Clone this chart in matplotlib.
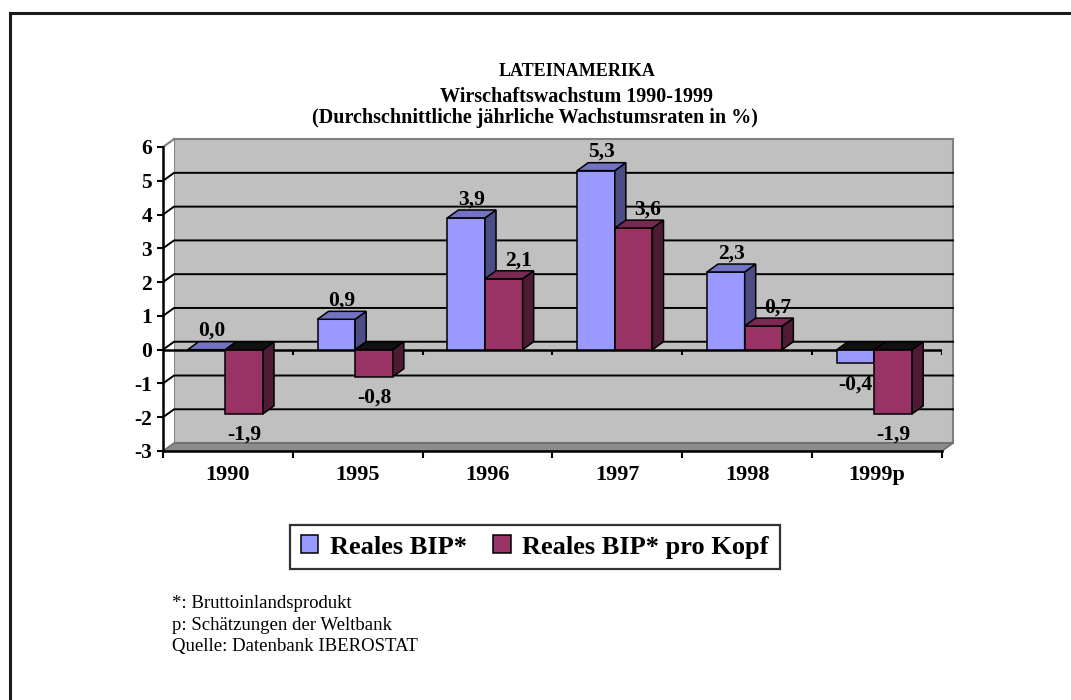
import numpy as np
import matplotlib
matplotlib.use("Agg")
import matplotlib.pyplot as plt
from matplotlib.patches import Polygon, Rectangle
from matplotlib.lines import Line2D

plt.rcParams['font.family'] = ['Liberation Serif', 'DejaVu Serif']

years = ['1990', '1995', '1996', '1997', '1998', '1999p']
bip = [0.0, 0.9, 3.9, 5.3, 2.3, -0.4]
bip_kopf = [-1.9, -0.8, 2.1, 3.6, 0.7, -1.9]
series_names = ['Reales BIP*', 'Reales BIP* pro Kopf']
yticks = [-3, -2, -1, 0, 1, 2, 3, 4, 5, 6]
notes = ['*: Bruttoinlandsprodukt',
         'p: Schätzungen der Weltbank',
         'Quelle: Datenbank IBEROSTAT']

front_c = ['#9999FF', '#993366']
side_c = ['#4D4D85', '#4F1A36']
top_c = ['#7373C4', '#7A2952']

W, H = 1071, 700
fig = plt.figure(figsize=(W / 100, H / 100), dpi=100)
ax = fig.add_axes([163 / W, (H - 451) / H, 779 / W, 304 / H])
ax.set_xlim(0, 6)
ax.set_ylim(-3, 6)
ax.patch.set_visible(False)

# depth of the 3d look, in data units
dx, dy = 0.085, 0.235
n = len(years)

# back wall, side wall, floor
ax.add_patch(Rectangle((dx, -3 + dy), n, 9, fc='#C0C0C0', ec='#808080', lw=1.5,
                       clip_on=False, zorder=0))
ax.add_patch(Polygon([(0, -3), (dx, -3 + dy), (dx, 6 + dy), (0, 6)], closed=True,
                     fc='white', ec='none', clip_on=False, zorder=0))
ax.plot([0, dx], [6, 6 + dy], color='#808080', lw=1.5, clip_on=False, zorder=1)
for v in yticks[1:-1]:
    ax.plot([0, dx, n + dx], [v, v + dy, v + dy], color='black', lw=1.4,
            clip_on=False, zorder=1)
ax.add_patch(Polygon([(0, -3), (n, -3), (n + dx, -3 + dy), (dx, -3 + dy)], closed=True,
                     fc='#8C8C8C', ec='#6E6E6E', lw=1.2, clip_on=False, zorder=1))

# category axis at zero
ax.plot([0, n], [0, 0], color='black', lw=1.8, zorder=2)
ax.vlines(np.arange(1, n + 1), -0.16, 0, color='black', lw=1.5, zorder=2)

# bars
width = 0.29
offsets = [0.19, 0.48]
label_shift = [0.04, 0.11]
for k, vals in enumerate([bip, bip_kopf]):
    bars = ax.bar(np.arange(n) + offsets[k], vals, width=width, align='edge',
                  color=front_c[k], edgecolor='black', lw=1.1, zorder=3 + k,
                  label=series_names[k])
    for rect, v in zip(bars.patches, vals):
        x0 = rect.get_x()
        x1 = x0 + rect.get_width()
        lo = min(0, v)
        hi = max(0, v)
        if v != 0:
            ax.add_patch(Polygon([(x1, lo), (x1 + dx, lo + dy), (x1 + dx, hi + dy), (x1, hi)],
                                 closed=True, fc=side_c[k], ec='black', lw=1.1,
                                 zorder=3 + k, clip_on=False))
        tc = top_c[k] if v >= 0 else '#111111'
        ax.add_patch(Polygon([(x0, hi), (x1, hi), (x1 + dx, hi + dy), (x0 + dx, hi + dy)],
                             closed=True, fc=tc, ec='black', lw=1.1,
                             zorder=3 + k, clip_on=False))
        txt = f"{v:.1f}".replace('.', ',')
        xc = (x0 + x1) / 2
        if v >= 0:
            ax.text(xc + label_shift[k], v + 0.55, txt, ha='center', va='center',
                    fontsize=15.5, fontweight='bold', zorder=6)
        else:
            ax.text(xc, v - 0.62, txt, ha='center', va='center',
                    fontsize=15.5, fontweight='bold', zorder=6)

# axes
for s in ['top', 'right']:
    ax.spines[s].set_visible(False)
ax.spines['left'].set_linewidth(1.8)
ax.spines['bottom'].set_linewidth(1.8)
ax.spines['left'].set_zorder(2)
ax.set_yticks(yticks)
ax.set_yticklabels([str(t) for t in yticks], fontsize=15.5, fontweight='bold')
ax.tick_params(axis='y', length=4, width=1.5, pad=4)
ax.set_xticks(np.arange(n + 1))
ax.set_xticklabels([])
ax.set_xticks(np.arange(n) + 0.5, minor=True)
ax.set_xticklabels(years, minor=True, fontsize=16, fontweight='bold')
ax.tick_params(axis='x', which='major', length=5, width=1.5)
ax.tick_params(axis='x', which='minor', length=0, pad=10)

# titles
fig.text(577 / W, 1 - 72 / H, 'LATEINAMERIKA', ha='center', va='center',
         fontsize=13, fontweight='bold')
fig.text(577 / W, 1 - 97 / H, 'Wirschaftswachstum 1990-1999', ha='center', va='center',
         fontsize=14.5, fontweight='bold')
fig.text(535 / W, 1 - 118 / H, '(Durchschnittliche jährliche Wachstumsraten in %)',
         ha='center', va='center', fontsize=14.5, fontweight='bold')

leg = fig.legend(loc='center', bbox_to_anchor=(535 / W, 1 - 547 / H), ncol=2,
                 prop={'size': 19, 'weight': 'bold'}, fancybox=False, frameon=True,
                 edgecolor='black', handlelength=0.65, handleheight=0.65,
                 handletextpad=0.45, columnspacing=1.0, borderpad=0.4)
leg.get_frame().set_linewidth(1.6)

for i, t in enumerate(notes):
    fig.text(172 / W, 1 - (604 + 21.5 * i) / H, t, ha='left', va='center', fontsize=13.5)

# outer frame (top and left edge)
fig.add_artist(Line2D([9.5 / W, 9.5 / W], [0, 1 - 13 / H], transform=fig.transFigure,
                      color='#1a1a1a', lw=2.2))
fig.add_artist(Line2D([9.5 / W, 1], [1 - 13 / H, 1 - 13 / H], transform=fig.transFigure,
                      color='#1a1a1a', lw=2.2))

fig.savefig('out.png', dpi=100)
